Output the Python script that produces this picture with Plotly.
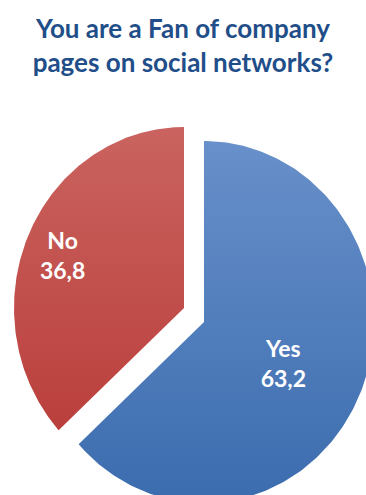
import numpy as np
import plotly.graph_objects as go

# ---- data ----
labels = ["Yes", "No"]
values = [63.2, 36.8]
title_lines = ["You are a Fan of company", "pages on social networks?"]

# ---- layout / style constants ----
W, H = 366, 495
centers = [(204, H - 322), (184, H - 308)]   # Yes, No (No is pulled out)
RX, RY = 170, 181
label_frac = [0.51, 0.78]
LABEL_DY = -7
grads = [("#3B6CAE", "#6890CA"), ("#BA3F3C", "#CA635F")]   # (bottom, top)
TITLE_COLOR = "#1F4E89"
FONT = "Lato"

fig = go.Figure()
total = sum(values)
start = 0.0
for i, (lab, v) in enumerate(zip(labels, values)):
    a0 = start / total * 2 * np.pi
    a1 = (start + v) / total * 2 * np.pi
    t = np.linspace(a0, a1, 240)
    cx, cy = centers[i]
    xs = np.concatenate([[cx], cx + RX * np.sin(t), [cx]])
    ys = np.concatenate([[cy], cy + RY * np.cos(t), [cy]])
    fig.add_trace(go.Scatter(
        x=xs, y=ys, mode="lines", fill="toself",
        line=dict(width=0, color=grads[i][0]),
        fillgradient=dict(type="vertical",
                          colorscale=[[0, grads[i][0]], [1, grads[i][1]]]),
        hoverinfo="skip", showlegend=False))
    am = (a0 + a1) / 2
    lx = cx + RX * label_frac[i] * np.sin(am)
    ly = cy + RY * label_frac[i] * np.cos(am) + LABEL_DY
    fig.add_trace(go.Scatter(
        x=[lx], y=[ly], mode="text",
        text=[f"{lab}<br>{v:.1f}".replace(".", ",")],
        textposition="middle center",
        textfont=dict(family=FONT, size=23, color="white", weight="bold"),
        hoverinfo="skip", showlegend=False))
    start += v

fig.update_layout(
    width=W, height=H,
    margin=dict(l=0, r=0, t=0, b=0),
    paper_bgcolor="white", plot_bgcolor="white",
    xaxis=dict(range=[0, W], visible=False, fixedrange=True),
    yaxis=dict(range=[0, H], visible=False, fixedrange=True),
    title=dict(text="<br>".join(title_lines), x=0.5, xanchor="center",
               y=1 - 38 / H, yanchor="top",
               font=dict(family=FONT, size=26, color=TITLE_COLOR, weight="bold")),
)

fig.write_html("out.html")
